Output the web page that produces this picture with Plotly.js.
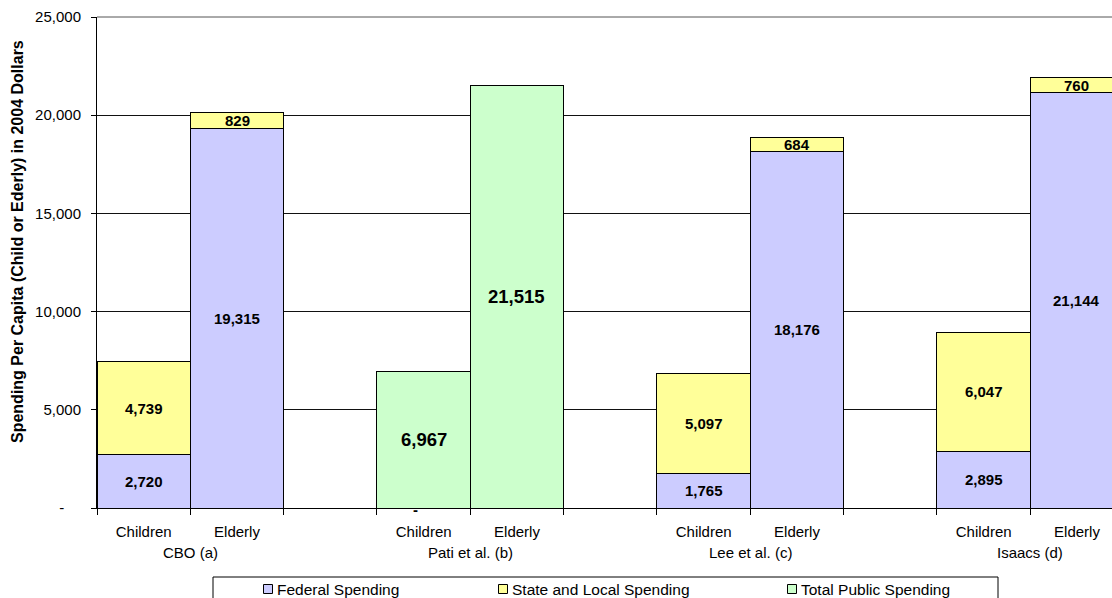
<!DOCTYPE html>
<html>
<head>
<meta charset="utf-8">
<script src="https://cdn.plot.ly/plotly-3.0.1.min.js"></script>
<style>
  html, body { margin: 0; padding: 0; background: #fff; }
  #chart { width: 1112px; height: 598px; }
</style>
</head>
<body>
<div id="chart"></div>
<script>
// Per-capita public spending estimates (2004 dollars), by study and age group
const groups = ['CBO (a)', 'Pati et al. (b)', 'Lee et al. (c)', 'Isaacs (d)'];
const ages = ['Children', 'Elderly'];

// One value per (study, age group), in the order study by study, children then elderly
const federal     = [2720, 19315,    0,  null, 1765, 18176, 2895, 21144];
const stateLocal  = [4739,   829, null,  null, 5097,   684, 6047,   760];
const totalPublic = [null,  null, 6967, 21515, null,  null, null,  null];

const seriesNames  = ['Federal Spending', 'State and Local Spending', 'Total Public Spending'];
const seriesColors = ['#CCCCFF', '#FFFF99', '#CCFFCC'];

const yTicks = [0, 5000, 10000, 15000, 20000, 25000];

const FONT = 'Liberation Sans, Arial, Helvetica, sans-serif';
const PLOT_L = 97, PLOT_T = 17, PLOT_B = 508, W = 1112, H = 598;

// Each study takes two adjacent slots followed by an empty spacer slot
const xPos = federal.map((_, i) => 3 * Math.floor(i / 2) + (i % 2));
const fmt = v => (v === 0 ? '-' : v.toLocaleString('en-US'));

function barTrace(name, values, color) {
  return {
    type: 'bar',
    name: name,
    x: xPos,
    y: values,
    width: 1,
    marker: { color: color, line: { color: '#000', width: 1 } },
    showlegend: false,
    hoverinfo: 'skip'
  };
}

const traces = [
  barTrace(seriesNames[0], federal, seriesColors[0]),
  barTrace(seriesNames[1], stateLocal, seriesColors[1]),
  barTrace(seriesNames[2], totalPublic, seriesColors[2])
];

const pxToPaperX = px => (px - PLOT_L) / (W - PLOT_L);
const pxToPaperY = py => (PLOT_B - py) / (PLOT_B - PLOT_T);

// Value labels centred in each stacked segment
const annotations = [];
function addLabels(values, baseValues, size) {
  values.forEach((v, i) => {
    if (v === null) return;
    const base = baseValues ? (baseValues[i] || 0) : 0;
    annotations.push({
      x: xPos[i], y: base + v / 2, xref: 'x', yref: 'y',
      text: '<b>' + fmt(v) + '</b>', showarrow: false,
      xshift: v === 0 ? -8 : 0, yshift: v === 0 ? -1 : 0,
      font: { family: FONT, size: size, color: '#000' }
    });
  });
}
addLabels(federal, null, 15);
addLabels(stateLocal, federal, 15);
addLabels(totalPublic, federal, 18.5);

// Study names under each pair of bars
groups.forEach((g, k) => {
  annotations.push({
    x: 3 * k + 0.5, y: pxToPaperY(552), xref: 'x', yref: 'paper',
    text: g, showarrow: false, yanchor: 'middle',
    font: { family: FONT, size: 15, color: '#000' }
  });
});

// Vertical axis title
annotations.push({
  x: pxToPaperX(18), y: pxToPaperY(242), xref: 'paper', yref: 'paper',
  text: '<b>Spending Per Capita (Child or Ederly) in 2004 Dollars</b>',
  textangle: -90, showarrow: false, xanchor: 'center', yanchor: 'middle',
  font: { family: FONT, size: 16, color: '#000' }
});

// Top border line of the plotting area
const shapes = [{
  type: 'line', xref: 'paper', yref: 'paper',
  x0: 0, x1: 1, y0: 1, y1: 1,
  line: { color: '#555', width: 1 }, layer: 'below'
}];

// Legend: framed box with a swatch and label per series
shapes.push({
  type: 'rect', xref: 'paper', yref: 'paper',
  x0: pxToPaperX(213), x1: pxToPaperX(998),
  y0: pxToPaperY(577), y1: pxToPaperY(640),
  line: { color: '#000', width: 1 }, fillcolor: 'rgba(0,0,0,0)', layer: 'below'
});
const legendSwatchX = [263, 498, 787];
seriesNames.forEach((name, k) => {
  const sx = legendSwatchX[k];
  shapes.push({
    type: 'rect', xref: 'paper', yref: 'paper',
    x0: pxToPaperX(sx + 0.5), x1: pxToPaperX(sx + 9.5),
    y0: pxToPaperY(584.5), y1: pxToPaperY(593.5),
    line: { color: '#000', width: 1 }, fillcolor: seriesColors[k], layer: 'above'
  });
  annotations.push({
    x: pxToPaperX(sx + 12), y: pxToPaperY(589.5), xref: 'paper', yref: 'paper',
    text: name, showarrow: false, xanchor: 'left', yanchor: 'middle',
    font: { family: FONT, size: 15.5, color: '#000' }
  });
});

const tickVals = [], tickText = [];
groups.forEach((g, k) => ages.forEach((a, s) => { tickVals.push(3 * k + s); tickText.push(a); }));

const slotWidth = 93.33;
const xMax = -0.5 + (W - PLOT_L) / slotWidth;

const layout = {
  width: W, height: H,
  margin: { l: PLOT_L, r: 0, t: PLOT_T, b: H - PLOT_B, pad: 0, autoexpand: false },
  paper_bgcolor: '#fff', plot_bgcolor: '#fff',
  barmode: 'stack',
  bargap: 0,
  showlegend: false,
  font: { family: FONT, size: 15, color: '#000' },
  xaxis: {
    range: [-0.5, xMax],
    tickmode: 'array', tickvals: tickVals, ticktext: tickText,
    ticks: 'outside', ticklen: 10, tickcolor: 'rgba(0,0,0,0)',
    tickfont: { family: FONT, size: 15, color: '#000' },
    showgrid: false, zeroline: false,
    showline: true, linecolor: '#000', linewidth: 1,
    minor: { tickmode: 'linear', tick0: 0.5, dtick: 1, ticks: 'outside', ticklen: 6, tickcolor: '#000', showgrid: false },
    automargin: false,
    fixedrange: true
  },
  yaxis: {
    range: [0, 25000],
    tickmode: 'array', tickvals: yTicks,
    ticktext: yTicks.map(v => (v === 0 ? '-\u00a0\u00a0\u00a0\u00a0' : v.toLocaleString('en-US'))),
    ticks: 'outside', ticklen: 5, tickcolor: '#000',
    ticklabelstandoff: 7,
    tickfont: { family: FONT, size: 15, color: '#000' },
    showgrid: true, gridcolor: '#111', gridwidth: 1,
    zeroline: true, zerolinecolor: '#000', zerolinewidth: 1,
    showline: true, linecolor: '#000', linewidth: 1,
    automargin: false,
    fixedrange: true
  },
  shapes: shapes,
  annotations: annotations
};

Plotly.newPlot('chart', traces, layout, { staticPlot: true, displayModeBar: false });
</script>
</body>
</html>
